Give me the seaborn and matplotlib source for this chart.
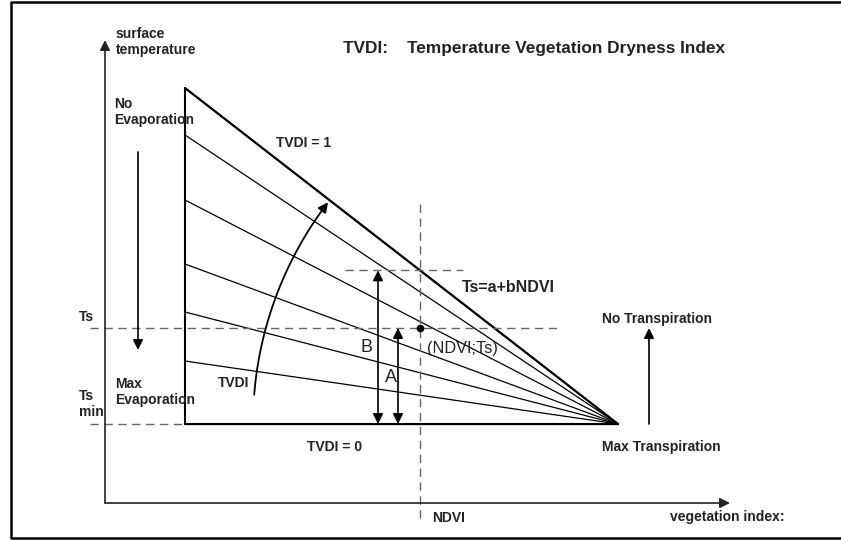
import numpy as np
import pandas as pd
import matplotlib
matplotlib.use("Agg")
import matplotlib.pyplot as plt
import seaborn as sns

# diagram units (x: vegetation index, y: surface temperature)
ndvi_min = 185
ndvi_max = 618
ts_min = 116
iso_left = [452, 405, 340, 276, 228, 179, 116]   # isoline intercepts at ndvi_min, dry edge first
ndvi_obs = 420
ts_obs = 212
axis_origin = [105, 37]
axis_end = [730, 500]
arc_radius = 365
arc_angles = [175.4, 142.6]

sns.set_theme(style="white")
plt.rcParams["font.family"] = ["Liberation Sans", "DejaVu Sans"]

fig = plt.figure(figsize=(8.41, 5.40), dpi=100)
ax = fig.add_axes([0, 0, 1, 1])
ax.set_xlim(0, 841)
ax.set_ylim(0, 540)
ax.axis("off")

# outer frame
ax.plot([841, 11, 11, 841], [538, 538, 2, 2], color="black", lw=1.8)

# fan of TVDI isolines
rows = []
for i, y0 in enumerate(iso_left):
    rows.append({"line": i, "ndvi": ndvi_min, "ts": y0})
    rows.append({"line": i, "ndvi": ndvi_max, "ts": ts_min})
fan = pd.DataFrame(rows)
sns.lineplot(data=fan, x="ndvi", y="ts", units="line", estimator=None,
             color="black", lw=0.9, ax=ax, legend=False)
ax.plot([ndvi_min, ndvi_max], [iso_left[0], ts_min], color="black", lw=1.6)
ax.plot([ndvi_min, ndvi_max], [ts_min, ts_min], color="black", lw=1.5)
ax.plot([ndvi_min, ndvi_min], [ts_min, iso_left[0]], color="black", lw=1.5)

# axes arrows
arrow = dict(arrowstyle="-|>", color="#222222", lw=1.2, mutation_scale=15, shrinkA=0, shrinkB=0)
ax.annotate("", xy=(axis_origin[0], axis_end[1]), xytext=(axis_origin[0], axis_origin[1]), arrowprops=arrow)
ax.annotate("", xy=(axis_end[0], axis_origin[1]), xytext=(axis_origin[0], axis_origin[1]), arrowprops=arrow)

# dashed guides
ts_max = ts_min + (iso_left[0] - ts_min) * (ndvi_max - ndvi_obs) / (ndvi_max - ndvi_min)
dash = dict(color="#666666", lw=1.0, ls=(0, (6, 4)))
ax.plot([90, 558], [ts_obs, ts_obs], **dash)
ax.plot([90, ndvi_min], [ts_min, ts_min], **dash)
ax.plot([345, 463], [ts_max, ts_max], **dash)
ax.plot([ndvi_obs, ndvi_obs], [22, 341], **dash)
ax.plot([ndvi_obs], [ts_obs], "o", color="black", ms=4.5)

# A and B arrows
both = dict(arrowstyle="<|-|>", color="black", lw=1.2, mutation_scale=15, shrinkA=0, shrinkB=0)
ax.annotate("", xy=(378, ts_max), xytext=(378, ts_min), arrowprops=both)
ax.annotate("", xy=(398, ts_obs), xytext=(398, ts_min), arrowprops=both)

# evaporation / transpiration arrows
one = dict(arrowstyle="-|>", color="black", lw=1.2, mutation_scale=15, shrinkA=0, shrinkB=0)
ax.annotate("", xy=(138, 190), xytext=(138, 388), arrowprops=one)
ax.annotate("", xy=(649, ts_obs), xytext=(649, ts_min), arrowprops=one)

# curved TVDI arrow centred on the wet/dry apex
theta = np.radians(np.linspace(arc_angles[0], arc_angles[1], 80))
arc_x = ndvi_max + arc_radius * np.cos(theta)
arc_y = ts_min + arc_radius * np.sin(theta)
ax.plot(arc_x[:-3], arc_y[:-3], color="black", lw=1.3)
ax.annotate("", xy=(arc_x[-1], arc_y[-1]), xytext=(arc_x[-4], arc_y[-4]), arrowprops=one)

# labels
bold = dict(fontsize=10, fontweight="bold", color="#222222", va="center")
ax.text(116, 498, "surface\ntemperature", linespacing=1.25, **bold)
ax.text(343, 492, "TVDI:    Temperature Vegetation Dryness Index", fontsize=12.4,
        fontweight="bold", color="#222222", va="center")
ax.text(114, 428, "No\nEvaporation", linespacing=1.2, **bold)
ax.text(115, 148, "Max\nEvaporation", linespacing=1.25, **bold)
ax.text(79, 223, "Ts", **bold)
ax.text(79, 136, "Ts\nmin", linespacing=1.15, **bold)
ax.text(276, 397, "TVDI = 1", **bold)
ax.text(307, 93, "TVDI = 0", **bold)
ax.text(218, 157, "TVDI", **bold)
ax.text(602, 221, "No Transpiration", **bold)
ax.text(602, 93, "Max Transpiration", **bold)
ax.text(432, 22, "NDVI", **bold)
ax.text(670, 23, "vegetation index:", **bold)
ax.text(462, 253, "Ts=a+bNDVI", fontsize=11.5, fontweight="bold", color="#222222", va="center")
ax.text(427, 192, "(NDVI;Ts)", fontsize=11.7, color="#222222", va="center")
ax.text(367, 192, "B", fontsize=13, color="#222222", ha="center", va="center")
ax.text(391, 163, "A", fontsize=13, color="#222222", ha="center", va="center")

fig.savefig("out.png", dpi=100)
